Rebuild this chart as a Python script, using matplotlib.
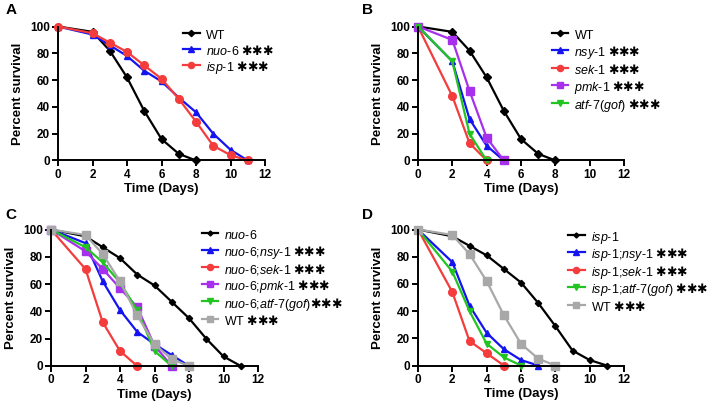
import re
import matplotlib
matplotlib.use("Agg")
import matplotlib.pyplot as plt

plt.rcParams['font.family'] = ['Liberation Sans', 'DejaVu Sans']
plt.rcParams['mathtext.fontset'] = 'custom'
plt.rcParams['mathtext.rm'] = 'Liberation Sans'
plt.rcParams['mathtext.it'] = 'Liberation Sans:italic'
plt.rcParams['mathtext.bf'] = 'DejaVu Sans:bold'

# survival data (days, percent alive)
wt_days = [0, 2, 3, 4, 5, 6, 7, 8]
wt_surv = [100, 96, 82, 62, 37, 16, 5, 0]

nuo6_days = [0, 2, 3, 4, 5, 6, 7, 8, 9, 10, 11]
nuo6_surv = [100, 94, 86, 78, 67, 59, 47, 36, 20, 8, 0]
isp1_days = [0, 2, 3, 4, 5, 6, 7, 8, 9, 10, 11]
isp1_surv = [100, 95, 88, 81, 71, 61, 46, 29, 11, 4, 0]

# panel B
nsy1_days = [0, 2, 3, 4, 5]
nsy1_surv = [100, 74, 31, 11, 0]
sek1_days = [0, 2, 3, 4]
sek1_surv = [100, 48, 13, 0]
pmk1_days = [0, 2, 3, 4, 5]
pmk1_surv = [100, 90, 52, 17, 0]
atf7_days = [0, 2, 3, 4]
atf7_surv = [100, 74, 20, 0]

# panel C
c_nuo6_surv = [100, 95, 87, 79, 67, 59, 47, 35, 20, 7, 0]
c_nsy1_days = [0, 2, 3, 4, 5, 6, 7, 8]
c_nsy1_surv = [100, 90, 62, 41, 25, 16, 8, 0]
c_sek1_days = [0, 2, 3, 4, 5]
c_sek1_surv = [100, 71, 32, 11, 0]
c_pmk1_days = [0, 2, 3, 4, 5, 6, 7]
c_pmk1_surv = [100, 84, 71, 57, 43, 15, 0]
c_atf7_days = [0, 2, 3, 4, 5, 6, 7]
c_atf7_surv = [100, 87, 76, 61, 41, 11, 0]

# panel D
d_nsy1_days = [0, 2, 3, 4, 5, 6, 7]
d_nsy1_surv = [100, 76, 44, 24, 12, 4, 0]
d_sek1_days = [0, 2, 3, 4, 5]
d_sek1_surv = [100, 54, 18, 9, 0]
d_atf7_days = [0, 2, 3, 4, 5, 6]
d_atf7_surv = [100, 69, 40, 16, 6, 0]

BLACK = 'black'
BLUE = '#1414f0'
RED = '#f43c3c'
PURPLE = '#a630ec'
GREEN = '#22c422'
GRAY = '#a8a8a8'

LEG_FS = 9  # pt
LEG_PX = LEG_FS * 100 / 72


def lab(name, stars=' '):
    # italic gene names, upright hyphens/semicolons, heavy stars
    if name == 'WT':
        s = 'WT'
    else:
        s = ''
        for tok in re.split(r'([-;])', name):
            if tok in ('-', ';'):
                s += tok
            elif tok:
                s += r'$\mathit{' + tok + '}$'
    if stars is None:
        return s
    return s + stars + '$\\mathbf{{\u2731}{\u2731}{\u2731}}$'


def style_ax(ax):
    ax.set_xlim(0, 12)
    ax.set_ylim(0, 100)
    ax.set_xticks(range(0, 13, 2))
    ax.set_yticks(range(0, 101, 20))
    for sp in ['top', 'right']:
        ax.spines[sp].set_visible(False)
    for sp in ['left', 'bottom']:
        ax.spines[sp].set_linewidth(1.4)
    ax.tick_params(direction='out', length=4, width=1.4, pad=2, labelsize=8.5)
    for t in ax.get_xticklabels() + ax.get_yticklabels():
        t.set_fontweight('bold')
    ax.set_xlabel('Time (Days)', fontsize=9.5, fontweight='bold')
    ax.set_ylabel('Percent survival', fontsize=9.5, fontweight='bold')
    ax.xaxis.set_label_coords(0.5, -0.165)
    ax.yaxis.set_label_coords(-0.165, 0.5)


def curve(ax, x, y, color, marker, ms, label):
    ax.plot(x, y, color=color, marker=marker, ms=ms, lw=1.6, label=label,
            clip_on=False, mec=color, mfc=color)


fig = plt.figure(figsize=(7.09, 4.08), dpi=100)
W, H = 709, 408


def add_axes(x0, x1, ytop, ybot):
    return fig.add_axes([x0 / W, 1 - ybot / H, (x1 - x0) / W, (ybot - ytop) / H])


axA = add_axes(58, 265, 26.5, 160.5)
axB = add_axes(418, 624, 26.5, 160.5)
axC = add_axes(51, 258, 229.5, 366)
axD = add_axes(418, 624, 229.5, 365.5)

# A
curve(axA, wt_days, wt_surv, BLACK, 'D', 4, lab('WT', None))
curve(axA, nuo6_days, nuo6_surv, BLUE, '^', 5, lab('nuo-6'))
curve(axA, isp1_days, isp1_surv, RED, 'o', 5.5, lab('isp-1'))

# B
curve(axB, wt_days, wt_surv, BLACK, 'D', 4, lab('WT', None))
curve(axB, nsy1_days, nsy1_surv, BLUE, '^', 5, lab('nsy-1'))
curve(axB, sek1_days, sek1_surv, RED, 'o', 5.5, lab('sek-1'))
curve(axB, pmk1_days, pmk1_surv, PURPLE, 's', 5.5, lab('pmk-1'))
curve(axB, atf7_days, atf7_surv, GREEN, 'v', 5, lab('atf-7(gof)'))

# C
curve(axC, nuo6_days, c_nuo6_surv, BLACK, 'D', 3.2, lab('nuo-6', None))
curve(axC, c_nsy1_days, c_nsy1_surv, BLUE, '^', 5, lab('nuo-6;nsy-1'))
curve(axC, c_sek1_days, c_sek1_surv, RED, 'o', 5.5, lab('nuo-6;sek-1'))
curve(axC, c_pmk1_days, c_pmk1_surv, PURPLE, 's', 5.5, lab('nuo-6;pmk-1'))
curve(axC, c_atf7_days, c_atf7_surv, GREEN, 'v', 5, lab('nuo-6;atf-7(gof)', ''))
curve(axC, wt_days, wt_surv, GRAY, 's', 5.5, lab('WT'))

# D
curve(axD, isp1_days, isp1_surv, BLACK, 'D', 3.2, lab('isp-1', None))
curve(axD, d_nsy1_days, d_nsy1_surv, BLUE, '^', 5, lab('isp-1;nsy-1'))
curve(axD, d_sek1_days, d_sek1_surv, RED, 'o', 5.5, lab('isp-1;sek-1'))
curve(axD, d_atf7_days, d_atf7_surv, GREEN, 'v', 5, lab('isp-1;atf-7(gof)'))
curve(axD, wt_days, wt_surv, GRAY, 's', 5.5, lab('WT'))

# legend: handle left x, first row centre y, row pitch (pixels)
legend_pos = [(axA, 183, 35, 15.8), (axB, 551.5, 35, 17.3),
              (axC, 201.5, 235, 16.8), (axD, 568, 237, 16.7)]
for ax, lx, cy, pitch in legend_pos:
    style_ax(ax)
    top = cy - pitch / 2
    # the handle box height in a legend row is fs*(0.65*hh + 0.245)
    hh = (pitch / LEG_PX - 0.245) / 0.65
    ax.legend(loc='upper left', bbox_to_anchor=(lx / W, 1 - top / H),
              bbox_transform=fig.transFigure, frameon=False, fontsize=LEG_FS,
              borderpad=0, borderaxespad=0, handlelength=1.32,
              handleheight=hh, handletextpad=0.52,
              labelspacing=0, markerscale=0.8)

for letter, px, py in [('A', 6, 3), ('B', 362, 3), ('C', 5, 208), ('D', 362, 208)]:
    fig.text(px / W, 1 - py / H, letter, fontsize=11, fontweight='bold',
             ha='left', va='top')

fig.savefig('out.png', dpi=100)
